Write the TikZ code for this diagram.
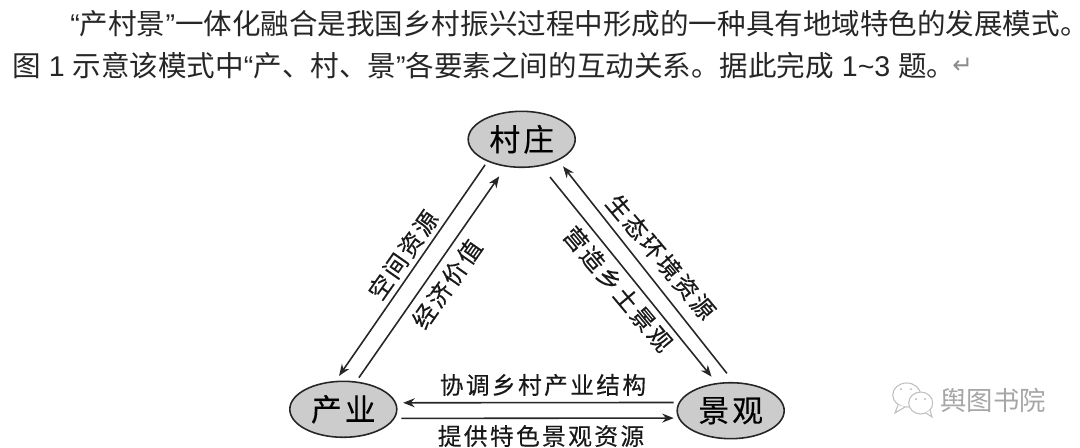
\documentclass[tikz,border=0pt]{standalone}
\usepackage{fontspec}
\usepackage{tikz}
\usetikzlibrary{arrows.meta,shapes.geometric}
\setmainfont{Noto Sans CJK SC}
\newfontfamily\latinfont{Liberation Sans}
\newfontfamily\arrowfont{DejaVu Sans}
\newfontfamily\labelfont[LetterSpace=10,FakeBold=0.25]{Noto Sans CJK SC}
\newcommand{\Latin}[1]{{\latinfont #1}}

\begin{document}
\begin{tikzpicture}[x=0.02cm, y=-0.02cm,
    para/.style={anchor=west, inner sep=0pt, text=black!85, font=\fontsize{16.25}{18}\selectfont},
    place/.style={ellipse, draw=black!85, line width=0.9pt, fill=black!20, minimum width=2.14cm, minimum height=1.12cm, inner sep=0pt, font=\fontsize{17.5}{18}\labelfont},
    flow/.style={anchor=center, inner sep=0pt, text=black!90, font=\fontsize{13.5}{14}\labelfont},
    arrow/.style={-{Stealth[length=0.23cm, width=0.18cm]}, line width=0.9pt, black!85},
    bubble/.style={draw=black!25, fill=white, line width=0.6pt}]
    \useasboundingbox (0,0) rectangle (1080,447);

    % Question text
    \node[para] (line1) at (70,24) {\Latin{“}产村景\Latin{”}一体化融合是我国乡村振兴过程中形成的一种具有地域特色的发展模式。};
    \node[para] (line2) at (12,66) {图\Latin{ 1 }示意该模式中\Latin{“}产、村、景\Latin{”}各要素之间的互动关系。据此完成\Latin{ 1\textasciitilde 3 }题。};
    \node[para, text=black!45, font=\fontsize{14}{16}\arrowfont] (mark) at (952,66) {↵};

    % Places
    \node[place] (cun) at (521.7,139.3) {村庄};
    \node[place] (chan) at (343.3,409.3) {产业};
    \node[place] (jing) at (730.7,410.7) {景观};

    % Arrows
    \draw[arrow, shorten <=0.08cm, shorten >=0.12cm] (cun.213) -- (chan.105);
    \draw[arrow, shorten <=0.09cm, shorten >=0.23cm] (chan.65) -- (cun.240);
    \draw[arrow, shorten <=0.22cm, shorten >=0.15cm] (jing.84) -- (cun.-30);
    \draw[arrow, shorten <=0.28cm, shorten >=0.16cm] (cun.-54) -- (jing.117);
    \draw[arrow, shorten <=0.10cm, shorten >=0.14cm] (jing.171.2) -- (chan.7.3);
    \draw[arrow, shorten <=0.13cm, shorten >=0.09cm] (chan.-10.2) -- (jing.188.3);

    % Arrow labels
    \node[flow, rotate=55] (kongjian) at (403,255) {空间资源};
    \node[flow, rotate=55] (jingji) at (447,284) {经济价值};
    \node[flow, rotate=-50] (shengtai) at (661,257) {生态环境资源};
    \node[flow, rotate=-50] (yingzao) at (618,289) {营造乡土景观};
    \node[flow] (xietiao) at (543,385) {协调乡村产业结构};
    \node[flow] (tigong) at (541,436) {提供特色景观资源};

    % Watermark
    \draw[bubble] (906.7,395) ellipse (14 and 12);
    \draw[bubble] (898,405) -- (895,413) -- (905,407);
    \draw[bubble] (920.7,403) ellipse (12 and 11);
    \draw[bubble] (926,413) -- (932,417) -- (930,410);
    \fill[black!30] (901,389) circle (1) (911,389) circle (1) (916,399) circle (1) (925,399) circle (1);
    \node[para, text=black!35, font=\fontsize{15}{16}\selectfont] (shuyuan) at (940,400) {舆图书院};
\end{tikzpicture}
\end{document}
